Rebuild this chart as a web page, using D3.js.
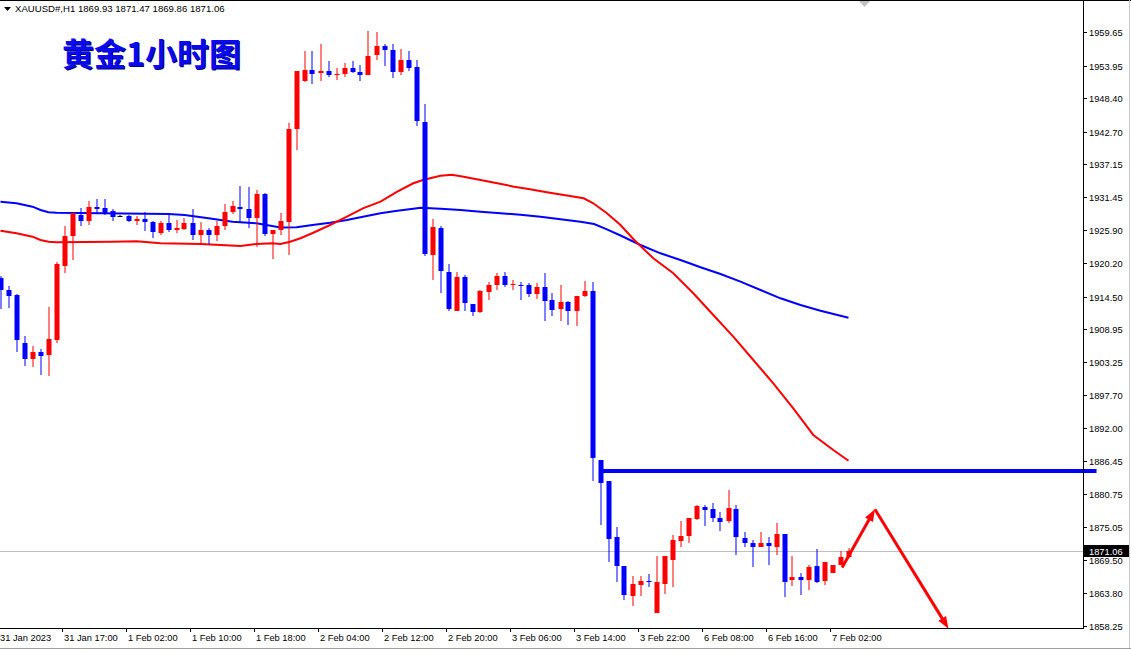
<!DOCTYPE html>
<html><head><meta charset="utf-8">
<script src="https://cdn.jsdelivr.net/npm/d3@7"></script>
<style>body{margin:0;background:#fff;overflow:hidden;} svg{display:block;}</style>
</head><body>
<script>
// ---------------- DATA ----------------
const headerText = "XAUUSD#,H1  1869.93 1871.47 1869.86 1871.06";
const titleText = "黄金1小时图";
const lastPrice = 1871.06;

const candleOpen = [1917.6,1915.6,1914.8,1906.6,1903.9,1905.0,1904.5,1907.1,1919.8,1924.8,
1928.4,1927.5,1929.9,1929.65,1929.1,1928.35,1928.2,1927.4,1927.8,1927.25,
1925.4,1927.0,1925.8,1926.1,1927.1,1925.1,1925.95,1925.1,1926.6,1928.9,
1929.8,1929.5,1927.9,1932.1,1925.2,1925.95,1927.25,1943.2,1951.4,1953.3,
1952.65,1953.0,1952.35,1952.55,1953.6,1952.9,1952.35,1955.75,1957.4,1956.7,
1952.85,1955.0,1953.8,1944.35,1921.55,1926.3,1918.7,1912.1,1917.9,1913.3,
1911.9,1915.35,1916.4,1918.1,1916.5,1916.55,1916.4,1915.0,1916.2,1913.95,
1912.3,1913.5,1912.0,1914.55,1915.5,1886.6,1882.9,1873.35,1868.5,1863.4,
1865.25,1865.95,1860.4,1865.4,1869.5,1872.8,1873.5,1876.5,1878.55,1878.2,
1876.65,1876.1,1878.25,1873.3,1872.4,1871.7,1872.4,1871.7,1873.95,1866.0,
1866.6,1866.0,1868.5,1865.9,1867.2,1868.6,1869.93];
const candleHigh = [1918.0,1916.3,1914.9,1907.7,1906.1,1905.6,1912.8,1920.4,1926.6,1928.8,
1929.65,1930.8,1931.1,1931.2,1929.4,1928.4,1928.5,1928.35,1928.9,1927.5,
1927.5,1928.6,1927.65,1927.95,1929.5,1927.3,1926.2,1927.5,1930.4,1930.8,
1933.35,1933.25,1932.65,1932.2,1925.8,1928.8,1944.2,1953.1,1956.5,1956.4,
1957.6,1954.7,1953.6,1954.4,1954.8,1954.15,1959.95,1959.8,1957.7,1957.6,
1956.9,1956.4,1955.0,1947.5,1927.8,1926.6,1920.1,1918.7,1918.25,1913.3,
1915.7,1917.05,1918.5,1918.75,1917.4,1917.0,1916.75,1916.9,1918.45,1915.2,
1916.4,1913.7,1914.65,1917.2,1917.0,1886.6,1882.9,1875.2,1868.5,1866.7,
1866.7,1867.15,1870.2,1870.2,1873.7,1876.2,1876.7,1878.8,1878.95,1879.15,
1877.7,1881.5,1878.95,1874.3,1872.95,1874.3,1873.45,1875.8,1873.95,1870.2,
1867.3,1868.7,1871.4,1869.2,1868.7,1871.1,1871.47];
const candleLow = [1912.3,1912.5,1905.1,1902.7,1902.4,1901.1,1901.0,1906.6,1918.6,1920.7,
1926.5,1926.8,1928.8,1928.5,1927.4,1928.3,1927.2,1926.8,1925.65,1924.5,
1925.1,1925.5,1925.3,1925.8,1924.25,1923.55,1923.55,1923.95,1925.95,1928.7,
1927.1,1926.2,1923.0,1924.8,1920.9,1925.1,1921.55,1939.5,1951.1,1950.9,
1951.4,1952.0,1951.6,1952.0,1952.7,1951.4,1952.35,1955.0,1953.85,1951.8,
1952.3,1953.0,1943.6,1921.4,1917.4,1915.1,1912.0,1912.0,1912.1,1911.2,
1911.75,1914.0,1915.7,1916.1,1915.6,1914.0,1914.4,1914.15,1910.3,1911.1,
1910.4,1909.6,1909.4,1914.4,1882.9,1875.5,1869.2,1865.65,1862.7,1861.55,
1863.4,1864.8,1860.4,1863.7,1864.8,1871.7,1872.3,1876.25,1875.35,1875.9,
1874.4,1875.8,1870.25,1871.7,1868.3,1871.7,1868.55,1870.25,1863.1,1865.1,
1863.55,1864.3,1865.55,1865.25,1867.2,1868.55,1869.86];
const candleClose = [1915.6,1914.6,1907.0,1903.9,1905.0,1904.3,1907.3,1920.0,1924.9,1928.8,
1927.5,1929.9,1929.5,1928.8,1928.05,1928.35,1927.5,1927.8,1927.2,1925.5,
1927.0,1925.9,1926.2,1927.1,1925.1,1925.95,1925.1,1926.6,1929.0,1930.05,
1929.55,1927.9,1932.1,1925.2,1925.8,1927.5,1943.2,1953.1,1953.3,1952.6,
1953.1,1952.3,1952.6,1953.6,1952.9,1952.3,1955.7,1957.4,1956.6,1952.85,
1955.0,1953.5,1944.45,1921.7,1926.4,1918.8,1912.3,1917.9,1913.35,1911.8,
1915.4,1916.5,1918.1,1916.4,1916.6,1916.25,1915.0,1916.2,1913.7,1912.15,
1913.5,1912.0,1914.65,1915.5,1886.9,1882.7,1873.1,1868.5,1863.55,1865.4,
1865.95,1865.65,1865.75,1870.1,1872.95,1873.6,1876.7,1878.65,1877.95,1876.65,
1875.9,1878.4,1873.35,1872.3,1871.7,1872.4,1871.8,1873.9,1865.8,1866.6,
1866.0,1868.3,1865.8,1869.2,1868.7,1870.0,1871.06];

// moving averages, read at bar positions
const maSlowBars = [0,2,3,4,5,6,7,12.5,21,23,26,29,32,35,37,39,41.2,43.3,45.3,47.5,49.6,51.6,52.5,55,57.5,60,62.5,65,67.5,70,72.5,74.2,75.8,77.5,80,82.5,85,87.5,90,92.5,95,97.5,100,102.5,106];
const maSlowValues = [1930.72,1930.45,1930.16,1929.87,1929.3,1928.91,1928.84,1928.74,1928.62,1928.45,1927.88,1927.3,1927.03,1926.3,1926.35,1926.74,1927.13,1927.59,1928.16,1928.74,1929.18,1929.52,1929.69,1929.52,1929.3,1929.01,1928.74,1928.5,1928.16,1927.71,1927.3,1926.91,1926.0,1924.94,1923.32,1921.9,1920.76,1919.51,1918.36,1917.05,1915.63,1914.21,1913.06,1912.09,1910.89];
const maFastBars = [0,2,3,4,5,6,7,14,17,20,25,30,32,34,35,36.2,37.5,39.1,41.2,43.3,45.3,47.5,49.6,51.6,52.8,55,56.4,57.9,60,62.1,64.2,66.2,68.3,70.4,72.9,74.1,75.8,77.5,79.1,81.6,84.1,86.6,89.1,91.6,94.1,96.6,99.1,101.6,104.1,106];
const maFastValues = [1925.76,1925.32,1925.03,1924.74,1924.18,1923.88,1923.78,1923.88,1923.95,1923.61,1923.49,1923.15,1923.49,1923.61,1923.5,1923.88,1924.47,1925.42,1926.74,1928.16,1929.59,1930.72,1932.43,1933.87,1934.43,1935.17,1935.34,1935.0,1934.43,1933.87,1933.29,1932.84,1932.33,1931.87,1931.3,1930.45,1928.74,1926.74,1924.35,1921.05,1918.48,1915.07,1911.36,1907.65,1903.66,1899.68,1895.41,1890.85,1888.28,1886.45];

const levelBars = [75, 137];
const levelPrice = 1884.7;

const arrowBars = [105.2, 109.3, 118.5];
const arrowPrices = [1868.2, 1878.15, 1857.75];

const priceTicks = [1959.65,1953.95,1948.40,1942.70,1937.15,1931.45,1925.90,1920.20,1914.50,1908.95,1903.25,1897.70,1892.00,1886.45,1880.75,1875.05,1869.50,1863.80,1858.25];
const timeTickBars = [0,8,16,24,32,40,48,56,64,72,80,88,96,104];
const timeTickLabels = ["31 Jan 2023","31 Jan 17:00","1 Feb 02:00","1 Feb 10:00","1 Feb 18:00","2 Feb 04:00","2 Feb 12:00","2 Feb 20:00","3 Feb 06:00","3 Feb 14:00","3 Feb 22:00","6 Feb 08:00","6 Feb 16:00","7 Feb 02:00"];

// ---------------- LAYOUT ----------------
const W = 1131, H = 652;
const plotRight = 1083, plotBottom = 628;
const axisFont = "'Liberation Sans', Arial, sans-serif";

const x = d3.scaleLinear().domain([0, 135]).range([0.5, 1080.5]);
const y = d3.scaleLinear().domain([1858.25, 1959.65]).range([625.7, 32.45]);

const svg = d3.select("body").append("svg").attr("width", W).attr("height", H);
svg.append("rect").attr("width", W).attr("height", H).attr("fill", "#fff");

const defs = svg.append("defs");
defs.append("clipPath").attr("id", "plot").append("rect")
  .attr("x", 0).attr("y", 0).attr("width", plotRight).attr("height", plotBottom);

// current price line
svg.append("line").attr("x1", 0).attr("x2", plotRight)
  .attr("y1", Math.round(y(lastPrice)) + 0.5).attr("y2", Math.round(y(lastPrice)) + 0.5)
  .attr("stroke", "#c0c0c0").attr("stroke-width", 1);

const plot = svg.append("g").attr("clip-path", "url(#plot)");

// moving averages
const line = d3.line().x(d => x(d[0])).y(d => y(d[1]));
plot.append("path").datum(d3.zip(maSlowBars, maSlowValues)).attr("d", line)
  .attr("fill", "none").attr("stroke", "#0000ff").attr("stroke-width", 2);
plot.append("path").datum(d3.zip(maFastBars, maFastValues)).attr("d", line)
  .attr("fill", "none").attr("stroke", "#ff0000").attr("stroke-width", 2);

// candles
const candles = candleOpen.map((o, i) => ({i, o, h: candleHigh[i], l: candleLow[i], c: candleClose[i]}));
const colorOf = d => d.c > d.o ? "#ff0000" : (d.c < d.o ? "#0000ff" : "#000000");
const cg = plot.selectAll("g.candle").data(candles).join("g").attr("class", "candle");
cg.append("rect")
  .attr("x", d => Math.round(x(d.i)) - 0.5)
  .attr("width", 1)
  .attr("y", d => Math.round(y(d.h)))
  .attr("height", d => Math.max(1, Math.round(y(d.l)) - Math.round(y(d.h))))
  .attr("fill", colorOf);
cg.append("rect")
  .attr("x", d => Math.round(x(d.i)) - 2.5)
  .attr("width", 5)
  .attr("y", d => Math.round(y(Math.max(d.o, d.c))))
  .attr("height", d => Math.max(1, Math.round(y(Math.min(d.o, d.c))) - Math.round(y(Math.max(d.o, d.c)))))
  .attr("fill", colorOf);

// horizontal level line (extends past the axis)
svg.append("line")
  .attr("x1", x(levelBars[0])).attr("x2", x(levelBars[1]))
  .attr("y1", y(levelPrice)).attr("y2", y(levelPrice))
  .attr("stroke", "#0000ff").attr("stroke-width", 4);

// arrows
function arrowSeg(p0, p1) {
  const [x0, y0] = p0, [x1, y1] = p1;
  const dx = x1 - x0, dy = y1 - y0, len = Math.hypot(dx, dy);
  const ux = dx / len, uy = dy / len;
  const hl = 12, hw = 4.5;
  const bx = x1 - ux * hl, by = y1 - uy * hl;
  svg.append("line").attr("x1", x0).attr("y1", y0).attr("x2", bx + ux * 2).attr("y2", by + uy * 2)
    .attr("stroke", "#ff0000").attr("stroke-width", 3);
  svg.append("path")
    .attr("d", `M${x1},${y1}L${bx - uy * hw},${by + ux * hw}L${bx + uy * hw},${by - ux * hw}Z`)
    .attr("fill", "#ff0000");
}
const arrowPts = arrowBars.map((b, k) => [x(b), y(arrowPrices[k])]);
for (let k = 0; k < arrowPts.length - 1; k++) arrowSeg(arrowPts[k], arrowPts[k + 1]);

// axes lines
svg.append("line").attr("x1", plotRight + 0.5).attr("x2", plotRight + 0.5).attr("y1", 0).attr("y2", plotBottom + 1)
  .attr("stroke", "#000").attr("stroke-width", 1);
svg.append("line").attr("x1", 0).attr("x2", plotRight + 1).attr("y1", plotBottom + 0.5).attr("y2", plotBottom + 0.5)
  .attr("stroke", "#000").attr("stroke-width", 1);
svg.append("line").attr("x1", 0).attr("x2", W).attr("y1", 0.5).attr("y2", 0.5)
  .attr("stroke", "#000").attr("stroke-width", 1);

// price axis
const pa = svg.append("g");
priceTicks.forEach(v => {
  const yy = Math.round(y(v)) + 0.5;
  pa.append("line").attr("x1", plotRight).attr("x2", plotRight + 4).attr("y1", yy).attr("y2", yy).attr("stroke", "#000");
  pa.append("text").attr("x", plotRight + 6).attr("y", yy + 3.5)
    .attr("font-family", axisFont).attr("font-size", 9.3).attr("fill", "#000").text(v.toFixed(2));
});
// current price label
const ly = Math.round(y(lastPrice));
pa.append("rect").attr("x", plotRight + 1).attr("y", ly - 6).attr("width", 45).attr("height", 12).attr("fill", "#000");
pa.append("text").attr("x", plotRight + 6).attr("y", ly + 4)
  .attr("font-family", axisFont).attr("font-size", 9.3).attr("fill", "#fff").text(lastPrice.toFixed(2));

// time axis
const ta = svg.append("g");
timeTickBars.forEach((b, k) => {
  const xx = Math.round(x(b)) - 2.5;
  if (k > 0) ta.append("line").attr("x1", xx).attr("x2", xx).attr("y1", plotBottom).attr("y2", plotBottom + 4).attr("stroke", "#000");
  ta.append("text").attr("x", k === 0 ? 0 : xx + 1.5).attr("y", 641)
    .attr("font-family", axisFont).attr("font-size", 9.3).attr("fill", "#000").text(timeTickLabels[k]);
});

// bottom/right window edges
svg.append("line").attr("x1", 0).attr("x2", W).attr("y1", 648.5).attr("y2", 648.5).attr("stroke", "#a0a0a0");
svg.append("line").attr("x1", W - 1.5).attr("x2", W - 1.5).attr("y1", 0).attr("y2", 648).attr("stroke", "#c8c8c8");

// shift marker
svg.append("path").attr("d", "M859,1L870,1L864.5,7Z").attr("fill", "#c0c0c0");

// header
svg.append("path").attr("d", "M4,7L11,7L7.5,11Z").attr("fill", "#000");
svg.append("text").attr("x", 15).attr("y", 12).attr("font-family", axisFont).attr("font-size", 9.6)
  .attr("fill", "#000").text(headerText);

// title
const tfont = "'Noto Sans CJK SC', 'Noto Sans', sans-serif";
svg.append("text").attr("x", 63).attr("y", 67).attr("font-family", tfont).attr("font-size", 32)
  .attr("font-weight", "bold").attr("fill", "#000070").text(titleText);
svg.append("text").attr("x", 62).attr("y", 66).attr("font-family", tfont).attr("font-size", 32)
  .attr("font-weight", "bold").attr("fill", "#0a0af0").text(titleText);
</script>
</body></html>
